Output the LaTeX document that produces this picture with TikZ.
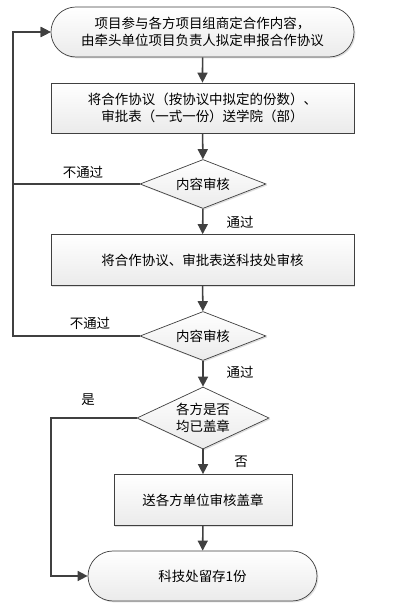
\documentclass[tikz,border=0pt]{standalone}
\usepackage{fontspec}
\newfontfamily\cjk{Noto Sans CJK SC}
\usetikzlibrary{arrows.meta,shapes.misc,shapes.geometric,shadows}
\definecolor{linegray}{HTML}{404040}
\begin{document}
\begin{tikzpicture}[x=0.03cm,y=0.03cm,
    font=\cjk\fontsize{11.5}{15}\selectfont,
    every node/.style={align=center,text=black},
    boxbase/.style={draw=linegray,line width=0.6pt,top color=white,bottom color=gray!16,
        drop shadow={shadow xshift=1.2pt,shadow yshift=-1.2pt,opacity=0.25,fill=gray}},
    terminal/.style={boxbase,rounded rectangle,rounded rectangle arc length=180,inner sep=0pt},
    process/.style={boxbase,rectangle,inner sep=0pt},
    decision/.style={boxbase,diamond,aspect=2.6,inner sep=0pt,minimum width=3.78cm},
    arr/.style={-{Triangle[length=0.3cm,width=0.3cm]},draw=linegray,line width=1.3pt},
    lbl/.style={inner sep=1pt}]
    \useasboundingbox (0,0) rectangle (406,608);
    \node[terminal,minimum width=9.09cm,minimum height=1.5cm] (start) at (202.5,576)
        {项目参与各方项目组商定合作内容，\\由牵头单位项目负责人拟定申报合作协议};
    \node[process,minimum width=9.09cm,minimum height=1.5cm] (step1) at (202.5,500)
        {将合作协议（按协议中拟定的份数）、\\审批表（一式一份）送学院（部）};
    \node[decision,minimum height=1.47cm] (check1) at (203,424) {内容审核};
    \node[process,minimum width=9.09cm,minimum height=1.53cm] (step2) at (202.5,348)
        {将合作协议、审批表送科技处审核};
    \node[decision,minimum height=1.47cm] (check2) at (203,272) {内容审核};
    \node[decision,minimum height=1.86cm] (check3) at (203,190) {各方是否\\均已盖章};
    \node[process,minimum width=5.34cm,minimum height=1.53cm] (step3) at (203,108)
        {送各方单位审核盖章};
    \node[terminal,minimum width=6.87cm,minimum height=1.5cm] (finish) at (202.5,32)
        {科技处留存1份};
    \coordinate (loop) at (13,0);
    \coordinate (yes) at (51,0);
    \draw[arr] (start) -- (step1);
    \draw[arr] (step1) -- (check1);
    \draw[arr] (check1) -- (step2);
    \draw[arr] (step2) -- (check2);
    \draw[arr] (check2) -- (check3);
    \draw[arr] (check3) -- (step3);
    \draw[arr] (step3) -- (finish);
    \draw[arr] (check1.west) -- (check1.west -| loop) |- (start.west); % back to start
    \draw[arr] (check2.west) -- (check2.west -| loop) |- (start.west);
    \draw[arr] (check3.west) -- (check3.west -| yes) |- (finish.west);
    \node[lbl] (fail1) at (83,436) {不通过};
    \node[lbl] (pass1) at (240,386) {通过};
    \node[lbl] (fail2) at (90,285) {不通过};
    \node[lbl] (pass2) at (240,236) {通过};
    \node[lbl] (yeslbl) at (88,208) {是};
    \node[lbl] (nolbl) at (241,146) {否};
\end{tikzpicture}
\end{document}
